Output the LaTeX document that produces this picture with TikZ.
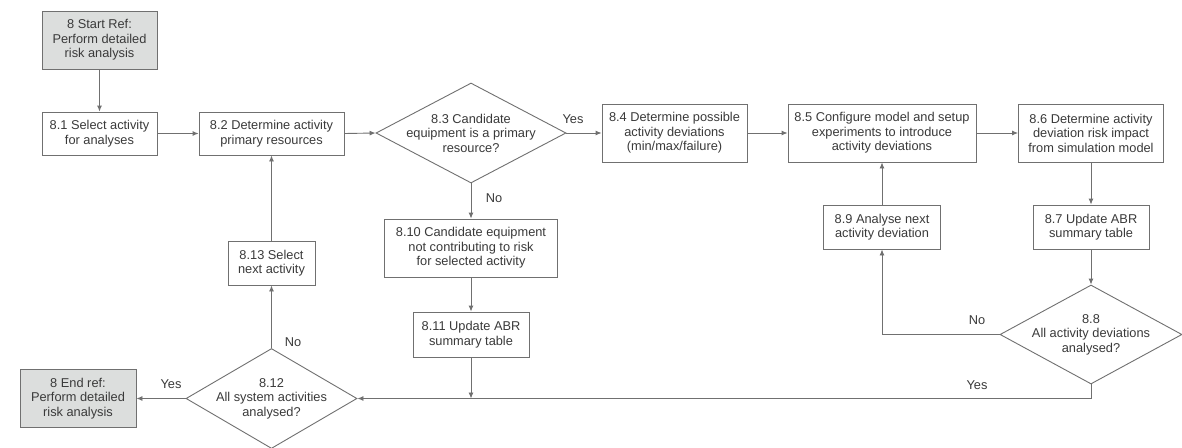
\documentclass[tikz,border=0pt]{standalone}
\usepackage{fontspec}
\setmainfont{Liberation Sans}
\usetikzlibrary{shapes.geometric,arrows.meta}
\definecolor{ln}{HTML}{707070}
\definecolor{tx}{HTML}{3A3A3A}
\definecolor{gfill}{HTML}{DCDEDD}
\begin{document}
\begin{tikzpicture}[x=1pt,y=-1pt,
  font=\fontsize{12.8}{14.5}\selectfont,
  box/.style={draw=ln, line width=0.9pt, fill=white, text=tx, align=center, inner sep=0pt},
  term/.style={box, fill=gfill},
  dec/.style={draw=ln, line width=0.9pt, fill=white, diamond, inner sep=0pt},
  dtext/.style={text=tx, align=center, inner sep=0pt},
  arr/.style={draw=ln, line width=0.9pt, -{Latex[length=6pt,width=5pt]}},
  lbl/.style={text=tx, inner sep=0pt}]
\useasboundingbox (0,0) rectangle (1182,447);
\fill[white] (0,0) rectangle (1182,447);

\node[term, minimum width=115pt, minimum height=58pt] (start) at (99.5,40) {8 Start Ref:\\Perform detailed\\risk analysis};
\node[box, minimum width=115pt, minimum height=43pt] (n81) at (99.5,133.5) {8.1 Select activity\\for analyses};
\node[box, minimum width=145pt, minimum height=43pt] (n82) at (271.5,133.5) {8.2 Determine activity\\primary resources};
\node[dec, minimum width=190pt, minimum height=100pt, label={[dtext]center:8.3 Candidate\\equipment is a primary\\resource?}] (d83) at (471,133) {};
\node[box, minimum width=145pt, minimum height=58pt] (n84) at (674.5,133) {8.4 Determine possible\\activity deviations\\(min/max/failure)};
\node[box, minimum width=188pt, minimum height=58pt] (n85) at (882,133) {8.5 Configure model and setup\\experiments to introduce\\activity deviations};
\node[box, minimum width=145pt, minimum height=58pt] (n86) at (1091,133) {8.6 Determine activity\\deviation risk impact\\from simulation model};
\node[box, minimum width=117pt, minimum height=44pt] (n89) at (882,227) {8.9 Analyse next\\activity deviation};
\node[box, minimum width=116pt, minimum height=44pt] (n87) at (1091,227) {8.7 Update ABR\\summary table};
\node[dec, minimum width=182pt, minimum height=99pt, label={[dtext]center:8.8\\All activity deviations\\analysed?}] (d88) at (1091,334.5) {};
\node[box, minimum width=173pt, minimum height=58pt] (n810) at (471,248) {8.10 Candidate equipment\\not contributing to risk\\for selected activity};
\node[box, minimum width=116pt, minimum height=45pt] (n811) at (471,334.5) {8.11 Update ABR\\summary table};
\node[dec, minimum width=171pt, minimum height=100pt, label={[dtext]center:8.12\\All system activities\\analysed?}] (d812) at (271.5,398.5) {};
\node[box, minimum width=87pt, minimum height=44pt] (n813) at (271.5,263) {8.13 Select\\next activity};
\node[term, minimum width=116pt, minimum height=58pt] (end) at (78,398.5) {8 End ref:\\Perform detailed\\risk analysis};

\node[lbl] (y83) at (573,119) {Yes};
\node[lbl] (no83) at (494,198) {No};
\node[lbl] (no88) at (977,320) {No};
\node[lbl] (y88) at (977,385) {Yes};
\node[lbl] (no812) at (293,342) {No};
\node[lbl] (y812) at (171,384) {Yes};

\draw[arr] (start.south) -- (n81.north);
\draw[arr] (n81.east) -- (n82.west);
\draw[arr] (n82.east) -- (d83.west);
\draw[arr] (d83.east) -- (n84.west);
\draw[arr] (n84.east) -- (n85.west);
\draw[arr] (n85.east) -- (n86.west);
\draw[arr] (n86.south) -- (n87.north);
\draw[arr] (n87.south) -- (d88.north);
\draw[arr] (d88.west) -| (n89.south);
\draw[arr] (n89.north) -- (n85.south);
\draw[arr] (d88.south) |- (d812.east);
\draw[arr] (d83.south) -- (n810.north);
\draw[arr] (n810.south) -- (n811.north);
\coordinate (j) at (n811.south |- d812.east);
\draw[arr] (n811.south) -- (j);
\draw[arr] (d812.north) -- (n813.south);
\draw[arr] (n813.north) -- (n82.south);
\draw[arr] (d812.west) -- (end.east);
\end{tikzpicture}
\end{document}
